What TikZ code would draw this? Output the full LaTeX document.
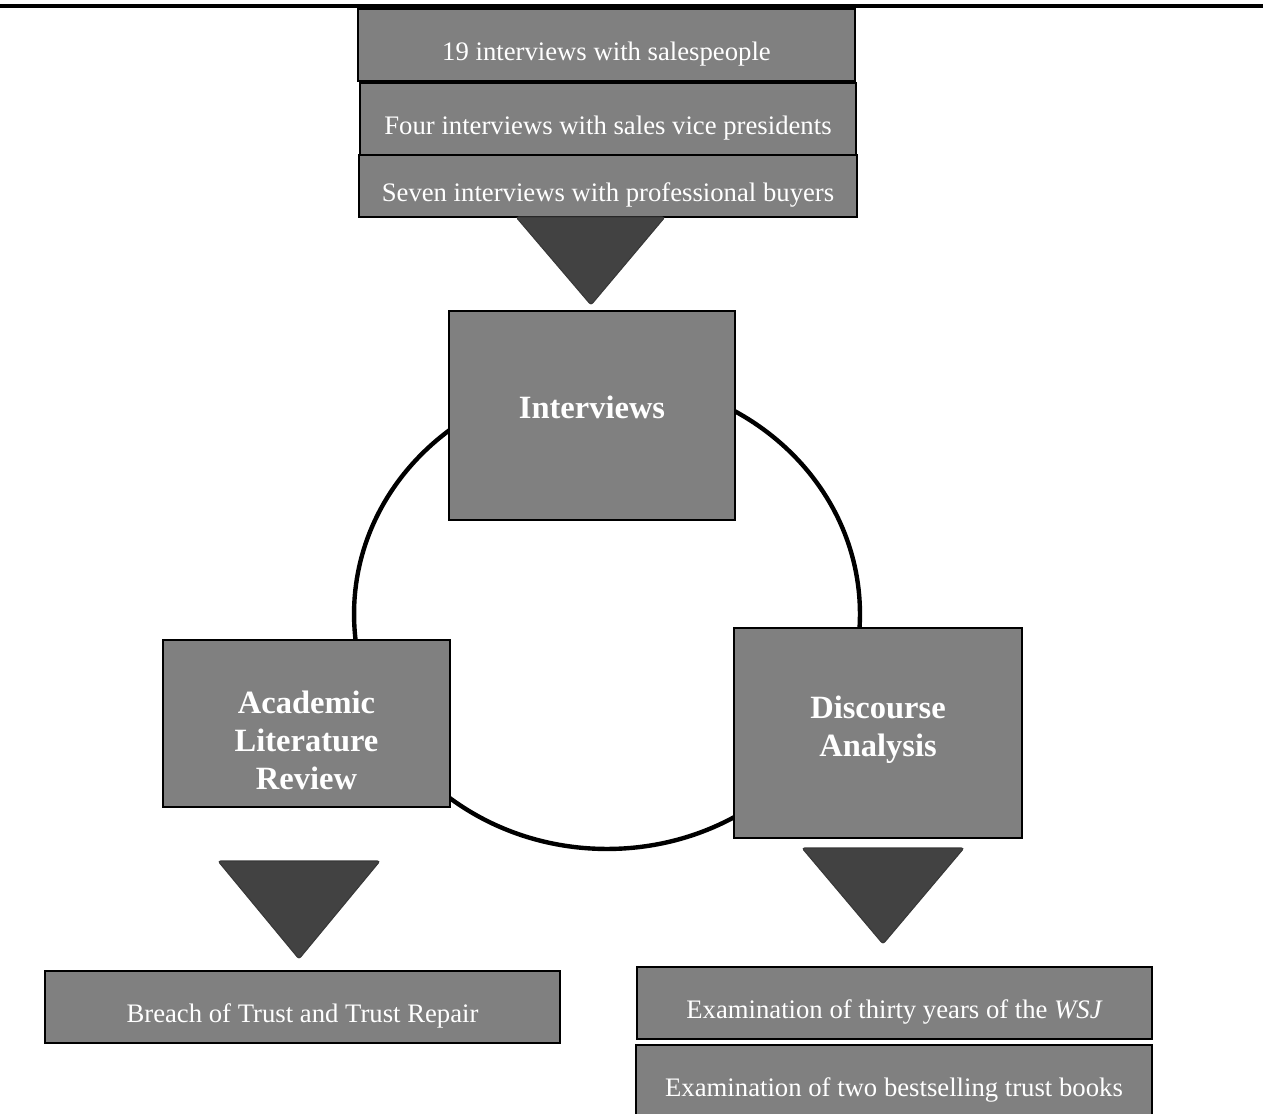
\documentclass[tikz,border=0pt]{standalone}
\usepackage{fontspec}
\setmainfont{Liberation Serif}
\usetikzlibrary{calc,positioning}
\definecolor{boxgray}{HTML}{808080}
\definecolor{trigray}{HTML}{424242}

\begin{document}
\begin{tikzpicture}[x=0.02cm,y=-0.02cm,
  box/.style={draw=black,fill=boxgray,line width=1.1pt,text=white,inner sep=0pt,text height=20.5pt,text depth=3.3pt,font=\fontsize{15.2}{18}\selectfont},
  hub/.style={draw=black,fill=boxgray,line width=1.1pt,inner sep=0pt},
  hubtext/.style={text=white,align=center,inner sep=0pt,font=\fontsize{18.5}{21.5}\selectfont\bfseries},
  tri/.style={fill=trigray,draw=trigray!85!black,line width=0.6pt,rounded corners=1.5pt}]
  \useasboundingbox (0,0) rectangle (1263,1114);
  \draw[line width=2pt] (0,6) -- (1263,6);

  % cycle behind the three hubs
  \draw[line width=2.5pt] (607,614) ellipse [x radius=5.06cm, y radius=4.7cm];

  \node[box,minimum width=9.94cm,minimum height=1.44cm] (sales) at (606.5,45) {19 interviews with salespeople};
  \node[box,minimum width=9.92cm,minimum height=1.44cm] (vps) at (608,119) {Four interviews with sales vice presidents};
  \node[box,minimum width=9.96cm,minimum height=1.24cm] (buyers) at (608,186) {Seven interviews with professional buyers};

  \node[hub,minimum width=5.72cm,minimum height=4.18cm,label={[hubtext,yshift=0.16cm]center:Interviews}] (interviews) at (592,415.5) {};
  \node[hub,minimum width=5.74cm,minimum height=3.34cm,label={[hubtext,yshift=-0.34cm]center:{Academic\\Literature\\Review}}] (acad) at (306.5,723.5) {};
  \node[hub,minimum width=5.76cm,minimum height=4.2cm,label={[hubtext,yshift=0.07cm]center:{Discourse\\Analysis}}] (disc) at (878,733) {};

  \node[box,minimum width=10.3cm,minimum height=1.44cm] (breach) at (302.5,1007) {Breach of Trust and Trust Repair};
  \node[box,minimum width=10.3cm,minimum height=1.44cm] (wsj) at (894.5,1003) {Examination of thirty years of the \textit{WSJ}};
  \node[box,minimum width=10.32cm,minimum height=1.44cm] (books) at (894,1081) {Examination of two bestselling trust books};

  \fill[tri] (516,217) -- (665,217) -- (591,305) -- cycle;
  \fill[tri] (218,861) -- (380,861) -- (299,959) -- cycle;
  \fill[tri] (802,848) -- (964,848) -- (883,944) -- cycle;
\end{tikzpicture}
\end{document}
